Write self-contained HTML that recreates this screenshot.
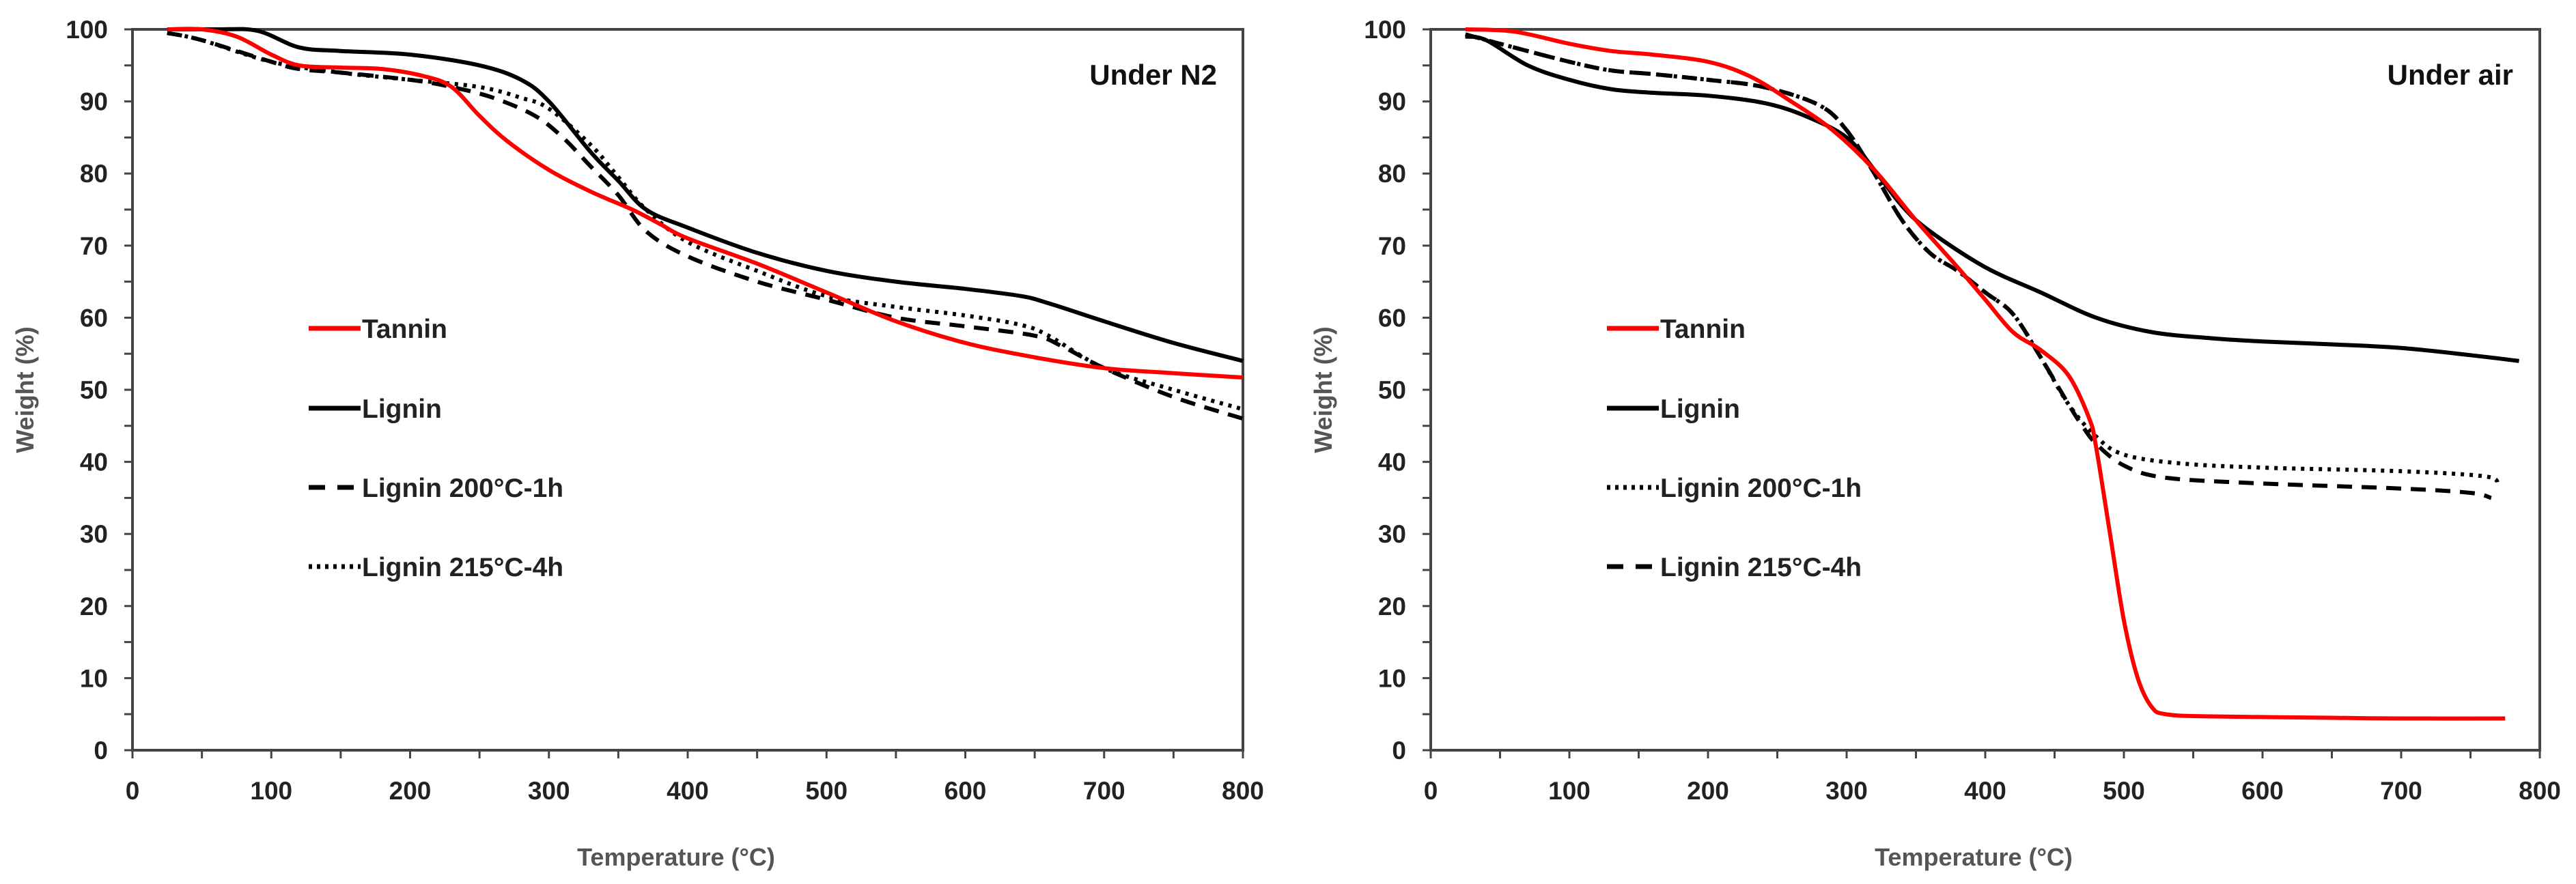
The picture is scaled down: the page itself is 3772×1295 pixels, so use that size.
<!DOCTYPE html>
<html><head><meta charset="utf-8"><style>
html,body{margin:0;padding:0;background:#fff;}
svg{display:block;font-family:"Liberation Sans",sans-serif;}
.tick{font-size:37px;font-weight:bold;fill:#222;}
.title{font-size:36px;font-weight:bold;fill:#555;}
.leg{font-size:39px;font-weight:bold;fill:#222;}
.cond{font-size:42px;font-weight:bold;fill:#111;}
</style></head><body>
<svg id="svg" width="3772" height="1295" viewBox="0 0 3772 1295" xmlns="http://www.w3.org/2000/svg"></svg>
<script>
// Under N2 data
const n2TanninT=[25,50,75,100,120,150,180,210,230,250,270,300,330,360,380,400,450,500,550,600,650,700,750,800];
const n2TanninW=[100,100,99,96.5,95,94.7,94.5,93.5,92,88,84.5,80.5,77.5,75,73,71,67.5,63.5,59.5,56.5,54.5,53,52.3,51.7];
const n2LigninT=[25,60,90,120,150,200,250,280,300,330,350,370,400,450,500,550,600,640,660,700,750,800];
const n2LigninW=[100,100,99.8,97.5,97,96.5,95,93,90,83,79,75,72.5,69,66.5,65,64,63,62,59.5,56.5,54];
const n2L200T=[25,50,100,120,150,200,230,260,290,310,330,350,370,400,450,500,550,600,650,670,700,750,800];
const n2L200W=[99.5,98.5,95.5,94.5,94,93,92,90.5,88,85,81,77,72,68.5,65,62.5,60,58.8,57.5,56,53,49,46];
const n2L215T=[25,50,100,150,200,250,280,300,330,350,370,400,450,500,550,600,640,660,700,750,800];
const n2L215W=[99.5,98.5,95.5,94,93,92,90.5,89,84,79.5,75,70.5,66.5,63,61.5,60.3,59,57.5,53,50,47.3];
// Under air data
const airTanninT=[25,60,100,130,160,200,230,260,290,320,350,380,400,420,440,460,475,480,490,500,510,520,530,560,650,700,775];
const airTanninW=[100,99.7,98,97,96.5,95.5,93.5,90,86,80.5,73.5,67,62.5,58,55.5,52,46,42,30,18,10,6,5,4.7,4.5,4.4,4.4];
const airLigninT=[25,40,70,100,130,160,200,240,270,300,320,340,360,400,440,480,520,560,600,650,700,750,785];
const airLigninW=[99,98.5,95,93,91.7,91.2,90.8,89.8,88,85,80.5,75.5,72,67,63.5,60,58,57.2,56.7,56.3,55.8,54.8,54];
const airL200T=[25,50,100,130,160,200,240,280,300,320,340,360,380,400,420,440,460,480,500,540,600,700,760,770];
const airL200W=[99.3,98,95.5,94.3,93.8,93,92,89.5,86,80,73.5,69,66.5,63.5,60.5,54.5,48,43.5,41,39.8,39.2,38.7,38,37];
const airL215T=[25,50,100,130,160,200,240,280,300,320,340,360,380,400,420,440,460,470,480,500,530,600,700,750,765];
const airL215W=[99.3,98,95.5,94.3,93.8,93,92,89.5,86,80,73.5,69,66.5,63.5,60.5,54.5,48,45,42.5,39.5,37.8,37,36.3,35.7,35];
const xTicks=[0,100,200,300,400,500,600,700,800];
const yTicks=[0,10,20,30,40,50,60,70,80,90,100];

const NS="http://www.w3.org/2000/svg";
const svg=document.getElementById('svg');
function mk(tag,attrs,parent){const e=document.createElementNS(NS,tag);for(const k in attrs)e.setAttribute(k,attrs[k]);(parent||svg).appendChild(e);return e;}
function pathD(xs,ys){
  const p=xs.map((x,i)=>[x,ys[i]]);let d="M"+p[0][0].toFixed(1)+","+p[0][1].toFixed(1);
  for(let i=0;i<p.length-1;i++){const p0=p[Math.max(0,i-1)],p1=p[i],p2=p[i+1],p3=p[Math.min(p.length-1,i+2)];
    const c1=[p1[0]+(p2[0]-p0[0])/6,p1[1]+(p2[1]-p0[1])/6],c2=[p2[0]-(p3[0]-p1[0])/6,p2[1]-(p3[1]-p1[1])/6];
    d+=" C"+c1[0].toFixed(1)+","+c1[1].toFixed(1)+" "+c2[0].toFixed(1)+","+c2[1].toFixed(1)+" "+p2[0].toFixed(1)+","+p2[1].toFixed(1);}
  return d;}
const STY={
  red:{stroke:"#ff0000",dash:null},
  solid:{stroke:"#000",dash:null},
  dash:{stroke:"#000",dash:"22,14"},
  dot:{stroke:"#000",dash:"5,8"}
};
function chart(name,x0,x1,y0,y1,series,legend,cond,condX,titleX,legX){
  const g=mk('g',{});
  
  
  const sx=t=>x0+(t/800)*(x1-x0), sy=w=>y1-(w/100)*(y1-y0);
  const axes=mk('path',{d:`M${x0},${y0} H${x1} V${y1} H${x0} Z`,fill:"none",stroke:"#444","stroke-width":4},g);
  
  
  for(let v=0;v<=100;v+=5){const y=sy(v);mk('line',{x1:x0-12,x2:x0,y1:y,y2:y,stroke:"#444","stroke-width":3},g);}
  for(let v=0;v<=800;v+=50){const x=sx(v);mk('line',{x1:x,x2:x,y1:y1,y2:y1+12,stroke:"#444","stroke-width":3},g);}
  yTicks.forEach(v=>{const t=mk('text',{x:x0-36,y:sy(v)+13,"text-anchor":"end",class:"tick"},g);t.textContent=v;
    
    });
  xTicks.forEach(v=>{const t=mk('text',{x:sx(v),y:y1+72,"text-anchor":"middle",class:"tick"},g);t.textContent=v;
    
    });
  const yt=mk('text',{x:0,y:0,transform:`translate(${x0-145},${(y0+y1)/2}) rotate(-90)`,"text-anchor":"middle",class:"title"},g);
  yt.textContent="Weight (%)";
  
  
  const xt=mk('text',{x:titleX,y:1268,"text-anchor":"middle",class:"title"},g);
  xt.textContent="Temperature (°C)";
  
  
  const ct=mk('text',{x:condX,y:124,"text-anchor":"end",class:"cond"},g);
  ct.textContent=cond;
  
  
  series.forEach(s=>{const st=STY[s.sty];
    const p=mk('path',{d:pathD(s.t.map(sx),s.w.map(sy)),fill:"none",stroke:st.stroke,"stroke-width":6,"stroke-linejoin":"round"},g);
    if(st.dash)p.setAttribute('stroke-dasharray',st.dash);
    
    });
  legend.forEach((l,i)=>{const y=[481,598,714,830][i];const st=STY[l.sty];
    const ln=mk('line',{x1:legX,x2:legX+76,y1:y,y2:y,stroke:st.stroke,"stroke-width":7},g);
    if(st.dash)ln.setAttribute('stroke-dasharray',l.sty==='dash'?"24,18":"5,7");
    
    
    const t=mk('text',{x:legX+78,y:y+14,class:"leg"},g);t.textContent=l.label;
    
    });
}
chart('chart-under-n2',194,1820,43,1099,[
  {t:n2L215T,w:n2L215W,sty:'dot',name:'line-lignin-215'},
  {t:n2L200T,w:n2L200W,sty:'dash',name:'line-lignin-200'},
  {t:n2LigninT,w:n2LigninW,sty:'solid',name:'line-lignin'},
  {t:n2TanninT,w:n2TanninW,sty:'red',name:'line-tannin'}],
  [{label:"Tannin",sty:'red'},{label:"Lignin",sty:'solid'},{label:"Lignin 200°C-1h",sty:'dash'},{label:"Lignin 215°C-4h",sty:'dot'}],
  "Under N2",1782,990,452);
chart('chart-under-air',2095,3719,43,1099,[
  {t:airL200T,w:airL200W,sty:'dot',name:'line-lignin-200'},
  {t:airL215T,w:airL215W,sty:'dash',name:'line-lignin-215'},
  {t:airLigninT,w:airLigninW,sty:'solid',name:'line-lignin'},
  {t:airTanninT,w:airTanninW,sty:'red',name:'line-tannin'}],
  [{label:"Tannin",sty:'red'},{label:"Lignin",sty:'solid'},{label:"Lignin 200°C-1h",sty:'dot'},{label:"Lignin 215°C-4h",sty:'dash'}],
  "Under air",3680,2890,2353);
</script>
</body></html>
